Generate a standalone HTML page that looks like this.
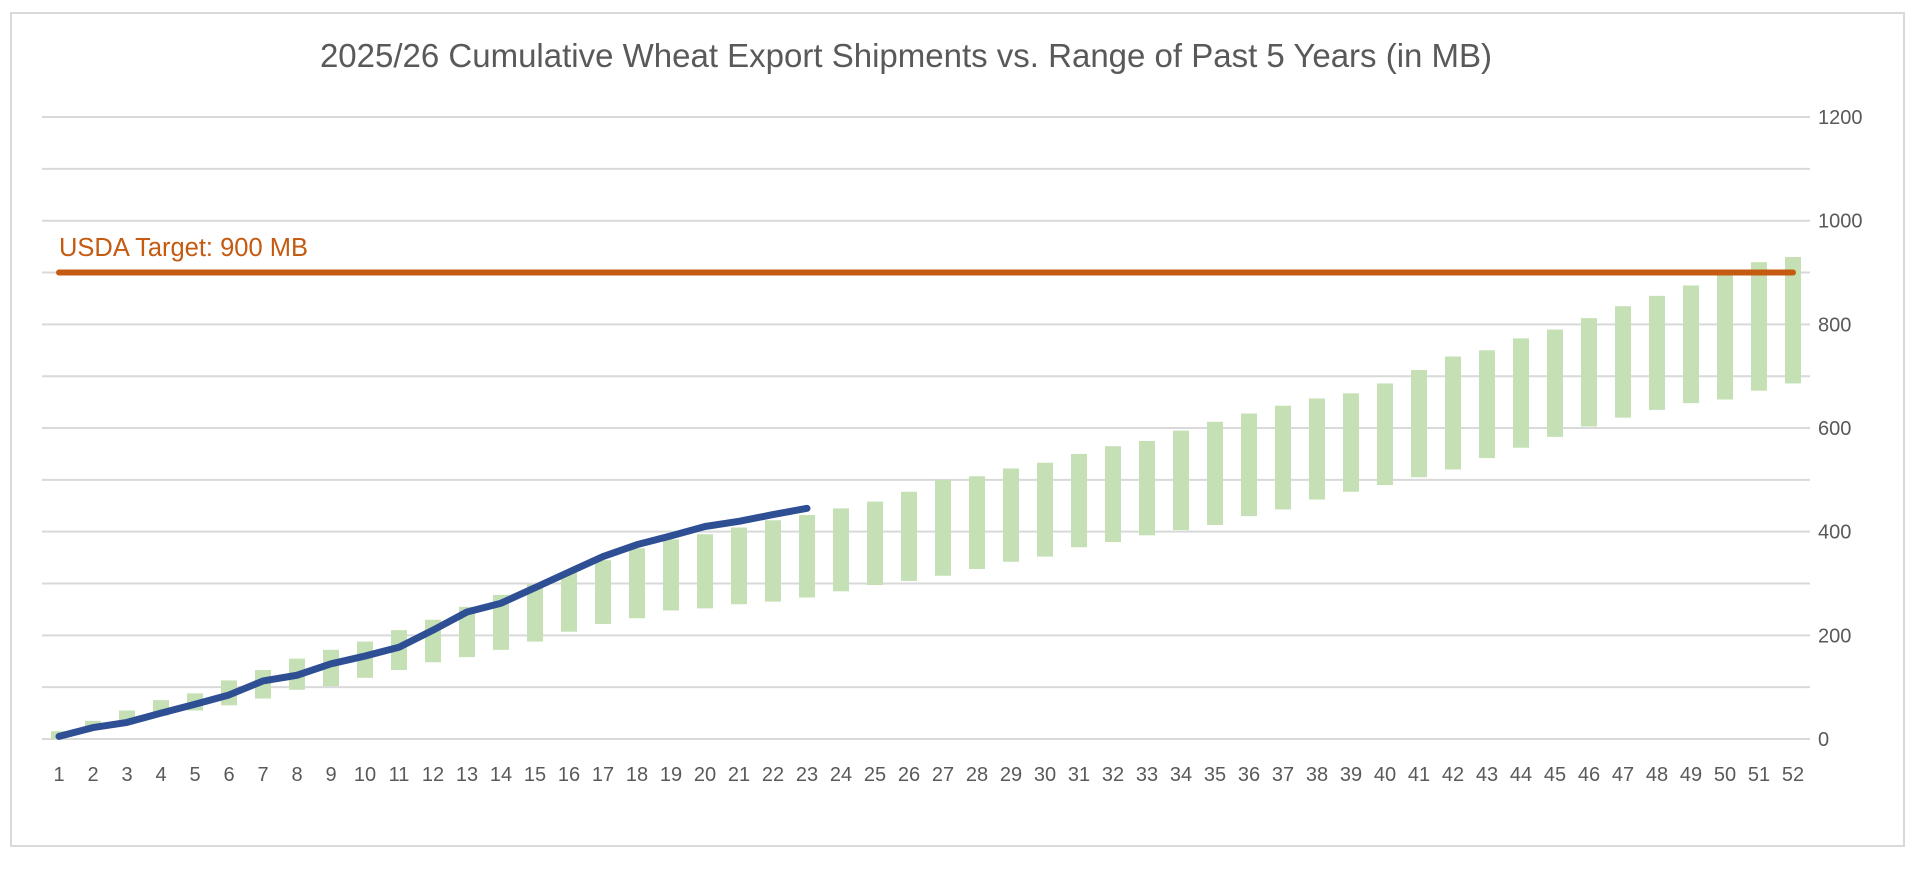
<!DOCTYPE html>
<html><head><meta charset="utf-8"><style>
html,body{margin:0;padding:0;background:#fff;}
svg{display:block;font-family:"Liberation Sans",sans-serif;}
</style></head><body>
<svg id="c" width="1920" height="870" viewBox="0 0 1920 870" xmlns="http://www.w3.org/2000/svg">
<rect x="11" y="13" width="1893" height="833" fill="#fff" stroke="#d9d9d9" stroke-width="2"/>
<text x="906" y="67" text-anchor="middle" font-size="33" fill="#595959">2025/26 Cumulative Wheat Export Shipments vs. Range of Past 5 Years (in MB)</text>
<g id="g"></g>
<text x="59" y="256" font-size="25.5" fill="#C55A11">USDA Target: 900 MB</text>
</svg>
<script>
const ns="http://www.w3.org/2000/svg",g=document.getElementById('g');
const y0=739,k=0.5183,X=i=>42+17+34*(i-1),Y=v=>y0-v*k;
function el(t,a,txt){const e=document.createElementNS(ns,t);for(const n in a)e.setAttribute(n,a[n]);if(txt!==undefined)e.textContent=txt;g.appendChild(e);return e;}
for(let v=0;v<=1200;v+=100){el('line',{x1:42,x2:1810,y1:Y(v),y2:Y(v),stroke:'#d9d9d9','stroke-width':2});
 if(v%200==0)el('text',{x:1818,y:Y(v)+7,'font-size':20,fill:'#595959'},String(v));}
for(let i=1;i<=52;i++)el('text',{x:X(i),y:781,'font-size':20,fill:'#595959','text-anchor':'middle'},String(i));
const hi=[15,35,55,75,88,113,133,155,172,188,210,230,255,278,298,322,345,368,385,395,408,422,432,445,458,477,500,507,522,533,550,565,575,595,612,628,643,657,667,686,712,738,750,773,790,812,835,855,875,898,920,930];
const lo=[0,20,35,45,55,65,78,95,102,118,133,148,158,172,188,207,222,233,248,252,260,265,273,285,297,305,315,328,342,352,370,380,393,403,413,430,443,462,477,490,505,520,542,562,583,603,620,635,648,655,672,686];
for(let i=0;i<52;i++)el('rect',{x:X(i+1)-8,y:Y(hi[i]),width:16,height:(hi[i]-lo[i])*k,fill:'#C5E0B4'});
el('line',{x1:X(1),x2:X(52),y1:Y(900),y2:Y(900),stroke:'#C55A11','stroke-width':6,'stroke-linecap':'round'});
const b=[5,22,32,50,67,85,112,123,145,160,177,210,245,262,292,322,352,375,392,410,420,433,445];
el('polyline',{points:b.map((v,i)=>X(i+1)+','+Y(v)).join(' '),fill:'none',stroke:'#2F4F95','stroke-width':7,'stroke-linecap':'round','stroke-linejoin':'round'});
</script>
</body></html>
